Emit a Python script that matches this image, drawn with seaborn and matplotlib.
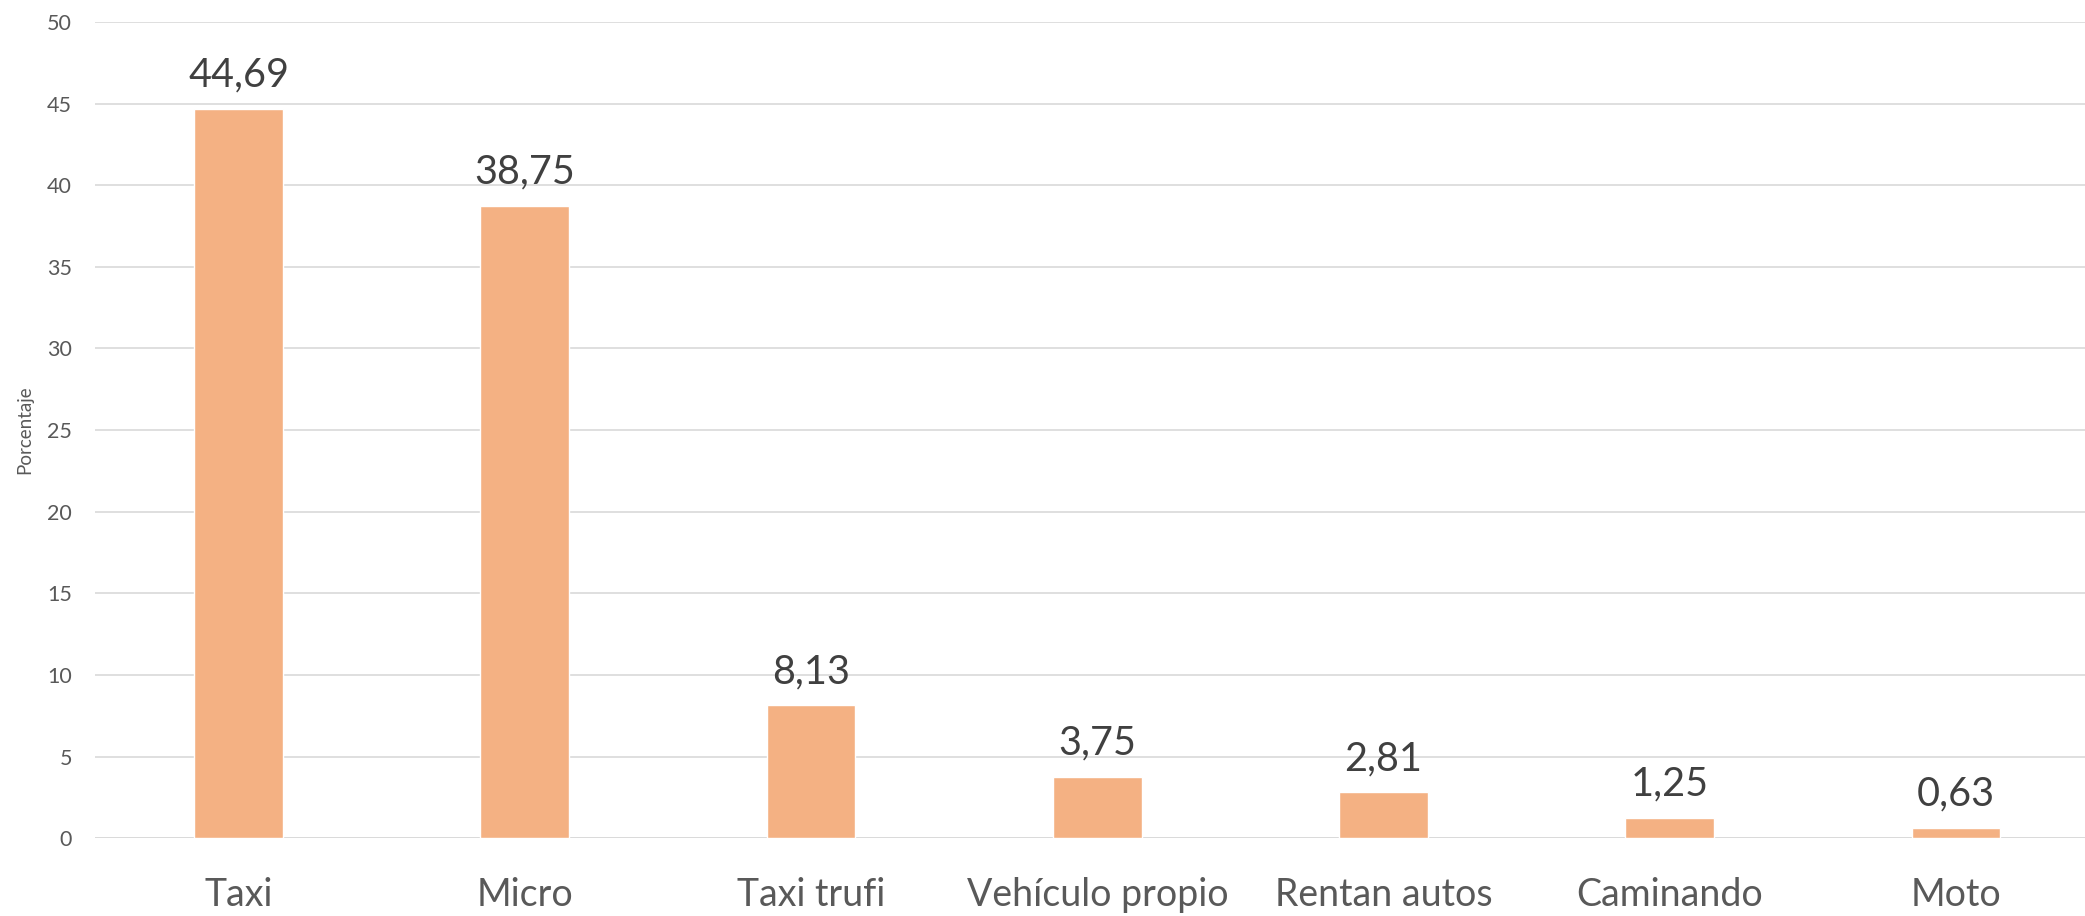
import pandas as pd
import matplotlib
matplotlib.use("Agg")
import matplotlib.pyplot as plt
import seaborn as sns

categorias = ["Taxi", "Micro", "Taxi trufi", "Vehículo propio", "Rentan autos", "Caminando", "Moto"]
porcentajes = [44.69, 38.75, 8.13, 3.75, 2.81, 1.25, 0.63]
ticks_y = [0, 5, 10, 15, 20, 25, 30, 35, 40, 45, 50]

df = pd.DataFrame({"Medio": categorias, "Porcentaje": porcentajes})

sns.set_style("white")
plt.rcParams["font.family"] = ["Lato", "DejaVu Sans"]

fig = plt.figure(figsize=(20.85, 9.16), dpi=100)
ax = fig.add_axes([0.0458, 0.085, 0.961, 0.891])

sns.barplot(data=df, x="Medio", y="Porcentaje", color="#F4B183", saturation=1,
            width=0.31, ax=ax, zorder=3)

ax.set_ylim(0, 50)
ax.set_yticks(ticks_y)
ax.yaxis.grid(True, color="#D9D9D9", linewidth=1.2, zorder=0)
ax.set_axisbelow(True)
for s in ax.spines.values():
    s.set_visible(False)
ax.axhline(0, color="#D9D9D9", linewidth=1.2, zorder=1)

ax.tick_params(axis="y", length=0, pad=17, labelsize=15.5, labelcolor="#595959")
ax.tick_params(axis="x", length=0, pad=28, labelsize=27, labelcolor="#595959")
ax.set_xlabel("")
ax.set_ylabel("Porcentaje", fontsize=13.5, color="#595959")
ax.yaxis.set_label_coords(-0.031, 0.5)

for i, v in enumerate(porcentajes):
    ax.annotate(f"{v:.2f}".replace(".", ","), (i, v), xytext=(0, 16),
                textcoords="offset points", ha="center", va="baseline",
                fontsize=28.5, color="#404040")

fig.savefig("out.png", dpi=100)
